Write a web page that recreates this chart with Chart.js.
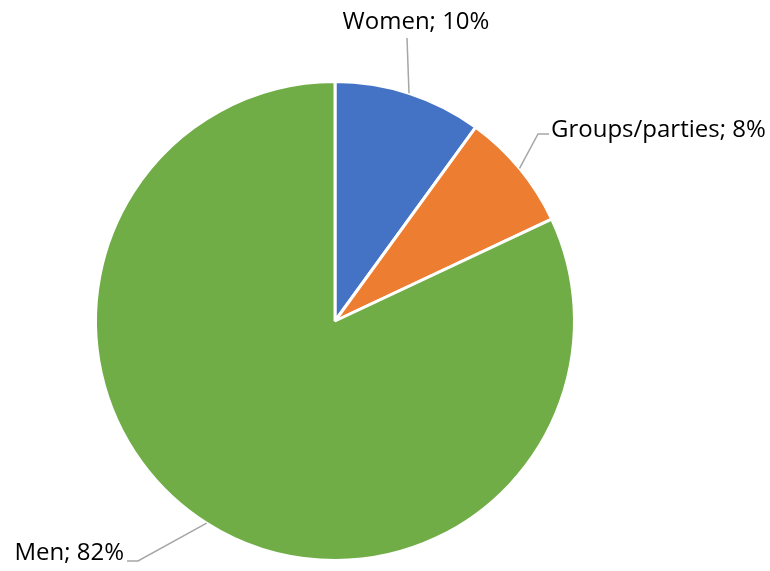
<!DOCTYPE html>
<html>
<head>
<meta charset="utf-8">
<script src="https://cdn.jsdelivr.net/npm/chart.js@4"></script>
<style>
  html, body { margin: 0; padding: 0; background: #fff; }
  #wrap { width: 770px; height: 571px; position: relative; }
</style>
</head>
<body>
<div id="wrap"><canvas id="myChart"></canvas></div>
<script>
var categories = ["Women", "Groups/parties", "Men"]
var shares = [10, 8, 82]
var colors = ["#4472C4", "#ED7D31", "#70AD47"]

// where each label sits: leader elbow point and text anchor
var labelSpots = [
  { elbow: [407, 38], end: [407, 38], text: [416, 22], align: "center" },
  { elbow: [538, 134], end: [549, 134], text: [551, 130], align: "left" },
  { elbow: [138, 561], end: [127, 561], text: [124, 553], align: "right" }
]

var leaderLabels = {
  id: "leaderLabels",
  afterDatasetsDraw: function(chart) {
    var ctx = chart.ctx
    var meta = chart.getDatasetMeta(0)
    ctx.save()
    meta.data.forEach(function(arc, i) {
      var p = arc.getProps(["x", "y", "startAngle", "endAngle", "outerRadius"], true)
      var mid = (p.startAngle + p.endAngle) / 2
      var sx = p.x + Math.cos(mid) * p.outerRadius
      var sy = p.y + Math.sin(mid) * p.outerRadius
      var spot = labelSpots[i]
      ctx.strokeStyle = "#A6A6A6"
      ctx.lineWidth = 1.5
      ctx.beginPath()
      ctx.moveTo(sx, sy)
      ctx.lineTo(spot.elbow[0], spot.elbow[1])
      ctx.lineTo(spot.end[0], spot.end[1])
      ctx.stroke()

      ctx.fillStyle = "#000"
      ctx.font = "24px 'Open Sans'"
      ctx.textAlign = spot.align
      ctx.textBaseline = "middle"
      ctx.fillText(categories[i] + "; " + shares[i] + "%", spot.text[0], spot.text[1])
    })
    ctx.restore()
  }
}

var chart = new Chart(document.getElementById("myChart").getContext("2d"), {
  type: "pie",
  data: {
    labels: categories,
    datasets: [{
      data: shares,
      backgroundColor: colors,
      borderColor: "#fff",
      borderWidth: 3
    }]
  },
  options: {
    responsive: true,
    maintainAspectRatio: false,
    animation: false,
    layout: { padding: { top: 80, bottom: 9, left: 94, right: 194 } },
    plugins: {
      legend: { display: false },
      tooltip: { enabled: false }
    }
  },
  plugins: [leaderLabels]
})
</script>
</body>
</html>
